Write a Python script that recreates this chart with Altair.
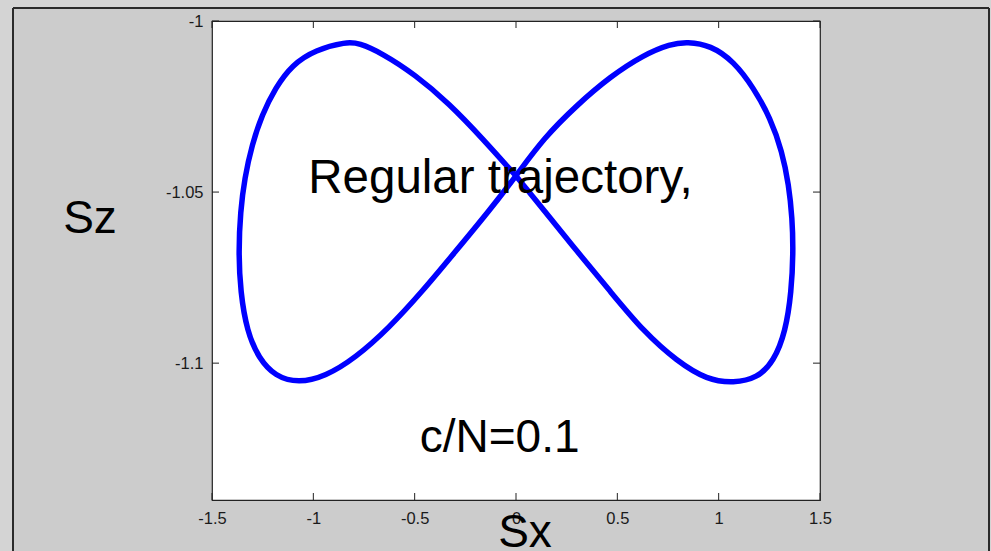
import altair as alt
import pandas as pd

# Trajectory of the spin in the (Sx, Sz) plane: a figure-eight traced
# from the crossing point through the left lobe, then the right lobe.
sx = [0.000, -0.167, -0.332, -0.497, -0.661, -0.776, -0.837, -0.990, -1.105,
      -1.188, -1.253, -1.303, -1.339, -1.360, -1.369, -1.360, -1.327, -1.270,
      -1.188, -1.073, -0.941, -0.793, -0.628, -0.463, -0.299, -0.135, 0.000,
      0.137, 0.302, 0.466, 0.630, 0.762, 0.845, 0.960, 1.075, 1.173, 1.255,
      1.313, 1.346, 1.363, 1.368, 1.359, 1.330, 1.272, 1.190, 1.075, 0.943,
      0.795, 0.630, 0.466, 0.302, 0.137, 0.000]
sz = [-1.0453, -1.0342, -1.0240, -1.0157, -1.0094, -1.0064, -1.0061, -1.0084,
      -1.0128, -1.0196, -1.0274, -1.0362, -1.0459, -1.0557, -1.0674, -1.0791,
      -1.0908, -1.0985, -1.1039, -1.1058, -1.1039, -1.0985, -1.0898, -1.0791,
      -1.0674, -1.0557, -1.0453, -1.0342, -1.0245, -1.0162, -1.0099, -1.0067,
      -1.0061, -1.0071, -1.0118, -1.0196, -1.0284, -1.0381, -1.0479, -1.0576,
      -1.0674, -1.0791, -1.0908, -1.0995, -1.1044, -1.1058, -1.1049, -1.0995,
      -1.0908, -1.0791, -1.0674, -1.0552, -1.0453]

x_ticks = [-1.5, -1, -0.5, 0, 0.5, 1, 1.5]
y_ticks = [-1.1, -1.05, -1]
x_domain = [-1.5, 1.5]
y_domain = [-1.14, -1]

note_text = ["Regular trajectory,", "c/N=0.1"]
note_x = [-1.025, -0.475]
note_y = [-1.0502, -1.126]

# plot-area geometry (pixels)
W, H = 608, 479
LEFT, TOP = 212, 21
TOTAL_W, TOTAL_H = 991, 551
FONT = "Liberation Sans"
TICK = 7

curve = pd.DataFrame({"i": list(range(len(sx))), "sx": sx, "sz": sz})
xt = pd.DataFrame({"v": x_ticks})
yt = pd.DataFrame({"v": y_ticks})
one = pd.DataFrame({"k": [0]})

xs = alt.Scale(domain=x_domain, nice=False, zero=False)
ys = alt.Scale(domain=y_domain, nice=False, zero=False)

axis_common = dict(title=None, grid=False, ticks=False, tickSize=0, domain=False,
                   labelFontSize=16.5, labelFont=FONT, labelColor="#1a1a1a",
                   labelExpr="'' + datum.value", labelFlush=False, labelOverlap=False)
x_axis = alt.Axis(values=x_ticks, labelPadding=10, **axis_common)
y_axis = alt.Axis(values=y_ticks, labelPadding=9, **axis_common)

# window strips outside the figure frame
strip_top = alt.Chart(one).mark_rect(color="#d4d4d4").encode(
    x=alt.value(-LEFT), x2=alt.value(TOTAL_W - LEFT),
    y=alt.value(-TOP), y2=alt.value(-13))
strip_left = alt.Chart(one).mark_rect(color="#d4d4d4").encode(
    x=alt.value(-LEFT), x2=alt.value(-199),
    y=alt.value(-TOP), y2=alt.value(TOTAL_H - TOP))
strip_right = alt.Chart(one).mark_rect(color="#d4d4d4").encode(
    x=alt.value(777), x2=alt.value(TOTAL_W - LEFT),
    y=alt.value(-TOP), y2=alt.value(TOTAL_H - TOP))

# figure frame
frame_top = alt.Chart(one).mark_rule(color="#2a2a2a", strokeWidth=2).encode(
    x=alt.value(-199), x2=alt.value(777), y=alt.value(-13))
frame_left = alt.Chart(one).mark_rule(color="#2a2a2a", strokeWidth=2).encode(
    x=alt.value(-199), y=alt.value(-13), y2=alt.value(TOTAL_H - TOP + 5))
frame_right = alt.Chart(one).mark_rule(color="#2a2a2a", strokeWidth=2).encode(
    x=alt.value(777), y=alt.value(-13), y2=alt.value(TOTAL_H - TOP + 5))

line = alt.Chart(curve).mark_line(
    color="#0000ff", strokeWidth=5.5, interpolate="basis",
    strokeJoin="round", strokeCap="round"
).encode(
    x=alt.X("sx:Q", scale=xs, axis=x_axis),
    y=alt.Y("sz:Q", scale=ys, axis=y_axis),
    order="i:Q",
)

# inward ticks on all four sides of the box
tick_style = dict(color="#222222", strokeWidth=1)
ticks_bottom = alt.Chart(xt).mark_rule(**tick_style).encode(
    x=alt.X("v:Q", scale=xs, axis=x_axis), y=alt.value(H), y2=alt.value(H - TICK))
ticks_top = alt.Chart(xt).mark_rule(**tick_style).encode(
    x=alt.X("v:Q", scale=xs, axis=x_axis), y=alt.value(0), y2=alt.value(TICK))
ticks_left = alt.Chart(yt).mark_rule(**tick_style).encode(
    y=alt.Y("v:Q", scale=ys, axis=y_axis), x=alt.value(0), x2=alt.value(TICK))
ticks_right = alt.Chart(yt).mark_rule(**tick_style).encode(
    y=alt.Y("v:Q", scale=ys, axis=y_axis), x=alt.value(W - TICK), x2=alt.value(W))

note_1 = alt.Chart(pd.DataFrame({"x": note_x[:1], "y": note_y[:1], "t": note_text[:1]})).mark_text(
    align="left", baseline="alphabetic", font=FONT, fontSize=47.5, color="black"
).encode(
    x=alt.X("x:Q", scale=xs, axis=x_axis),
    y=alt.Y("y:Q", scale=ys, axis=y_axis),
    text="t:N",
)
note_2 = alt.Chart(pd.DataFrame({"x": note_x[1:], "y": note_y[1:], "t": note_text[1:]})).mark_text(
    align="left", baseline="alphabetic", font=FONT, fontSize=46, color="black"
).encode(
    x=alt.X("x:Q", scale=xs, axis=x_axis),
    y=alt.Y("y:Q", scale=ys, axis=y_axis),
    text="t:N",
)

label_style = dict(font=FONT, fontSize=46, color="black", align="center", baseline="alphabetic")
title_sx = alt.Chart(one).mark_text(text="Sx", **label_style).encode(
    x=alt.value(299), y=alt.value(-21))
xlabel = alt.Chart(one).mark_text(text="Sx", **label_style).encode(
    x=alt.value(313), y=alt.value(526))
ylabel = alt.Chart(one).mark_text(text="Sz", **label_style).encode(
    x=alt.value(-122), y=alt.value(212))

chart = alt.layer(
    strip_top, strip_left, strip_right,
    frame_top, frame_left, frame_right,
    line,
    ticks_bottom, ticks_top, ticks_left, ticks_right,
    note_1, note_2, title_sx, xlabel, ylabel,
).properties(
    width=W, height=H,
    autosize=alt.AutoSizeParams(type="none"),
    padding={"left": LEFT, "top": TOP, "right": TOTAL_W - LEFT - W, "bottom": TOTAL_H - TOP - H},
    background="#cccccc",
).configure_view(
    fill="white", stroke="#222222", strokeWidth=1.2
)

chart.save("out.html", embed_options={"renderer": "svg", "actions": False})
